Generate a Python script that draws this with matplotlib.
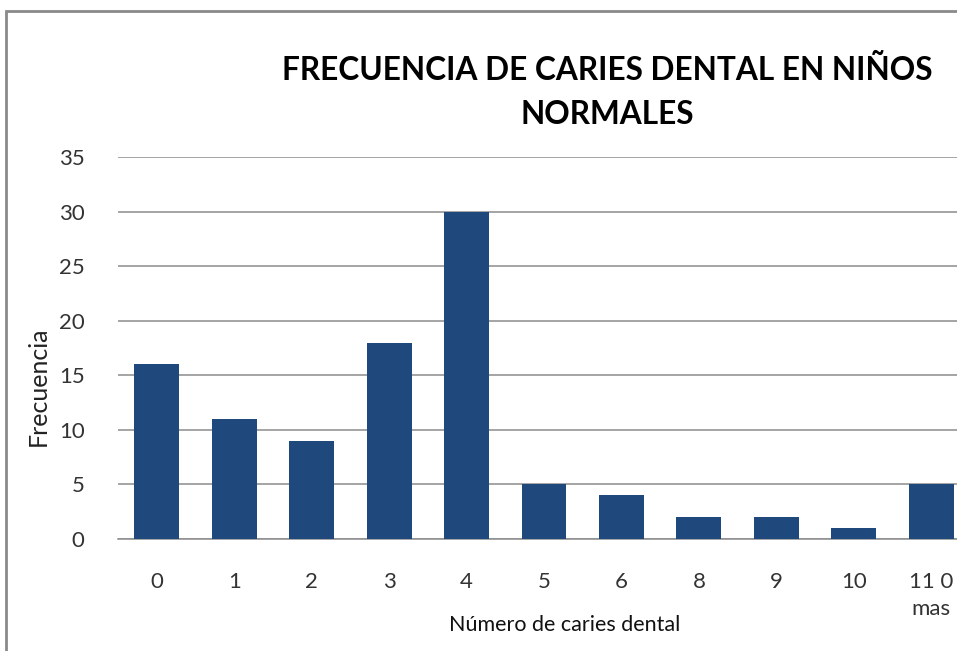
import matplotlib.pyplot as plt
from matplotlib.patches import Rectangle

categories = ["0", "1", "2", "3", "4", "5", "6", "8", "9", "10", "11 0\nmas"]
frecuencia = [16, 11, 9, 18, 30, 5, 4, 2, 2, 1, 5]

W, H = 957, 651
fig = plt.figure(figsize=(W / 100, H / 100), dpi=100)
plt.rcParams['font.family'] = ['Lato', 'DejaVu Sans']

# plot area runs past the right edge, like the cropped original
left, right = 118, 970
bottom, top = 539, 157
ax = fig.add_axes([left / W, 1 - bottom / H, (right - left) / W, (bottom - top) / H])

pos = range(len(categories))
ax.bar(pos, frecuencia, width=0.58, color="#1F497D", zorder=3)

ax.set_xlim(-0.5, len(categories) - 0.5)
ax.set_ylim(0, 35)
ax.set_yticks(range(0, 36, 5))
ax.set_xticks(list(pos))
ax.set_xticklabels(categories, fontsize=16, color="#333333", va="top", linespacing=1.4)
ax.tick_params(axis="x", length=0, pad=24)
ax.tick_params(axis="y", length=0, pad=24, labelsize=16, labelcolor="#333333")
ax.yaxis.grid(True, color="#8C8C8C", linewidth=1.1, zorder=0)
ax.set_axisbelow(True)
for s in ["top", "right", "left"]:
    ax.spines[s].set_visible(False)
ax.spines["bottom"].set_color("#8C8C8C")
ax.spines["bottom"].set_linewidth(1.1)

# y label sits a bit lower than the axes centre in the original
fig.text(38 / W, 1 - 386 / H, "Frecuencia", rotation=90, ha="center", va="center",
         fontsize=18, color="#222222")

fig.text(607 / W, 1 - 92 / H, "FRECUENCIA DE CARIES DENTAL EN NIÑOS\nNORMALES",
         ha="center", va="center", fontsize=22.8, fontweight="bold", linespacing=1.6)
fig.text(565 / W, 1 - 625 / H, "Número de caries dental", ha="center", va="center",
         fontsize=15.5, color="#111111")

# chart frame border
fig.patches.append(Rectangle((6 / W, -0.2), 1.2, 1.2 - 11 / H, transform=fig.transFigure,
                             fill=False, edgecolor="#8A8A8A", linewidth=2, zorder=0))

fig.savefig("out.png", dpi=100)
